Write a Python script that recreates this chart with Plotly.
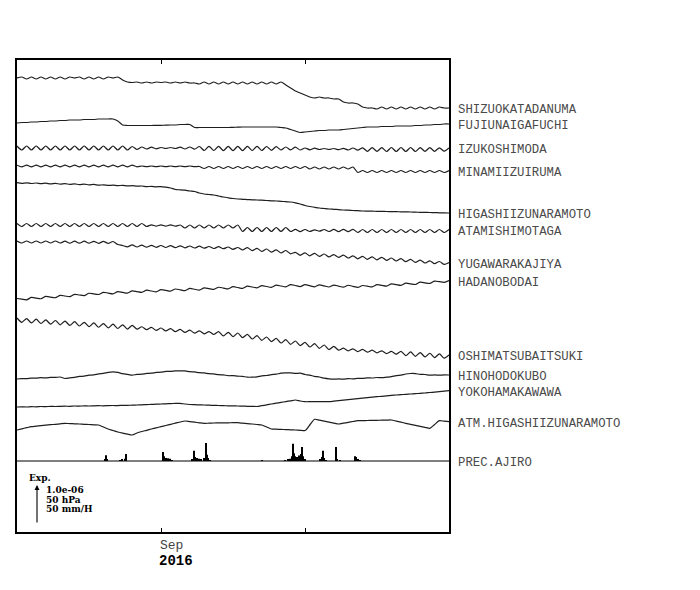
import pandas as pd
import plotly.graph_objects as go

# ---------------- data ----------------
start_date = "2016-08-02"
n_days = 91
dates = pd.date_range(start_date, periods=n_days, freq="D")

station_names = [
    "SHIZUOKATADANUMA", "FUJIUNAIGAFUCHI", "IZUKOSHIMODA", "MINAMIIZUIRUMA",
    "HIGASHIIZUNARAMOTO", "ATAMISHIMOTAGA", "YUGAWARAKAJIYA", "HADANOBODAI",
    "OSHIMATSUBAITSUKI", "HINOHODOKUBO", "YOKOHAMAKAWAWA", "ATM.HIGASHIIZUNARAMOTO",
]

# daily values, relative to the first day (scale bar = 39 units)
shizuoka = [0, 1, -1, 1, -1, 1, -1, 1, -1, 1, -1, 1, 0, 1, -1, 1, -1, 1, -1, 1, 0, 1,
            -2,
            -4, -4.5, -4, -5, -4, -5, -4, -4.5, -4, -5, -4, -5, -4, -5, -5,
            -6, -4, -6, -4, -6, -4, -6, -4, -6, -4, -6, -4, -6, -4, -6, -4, -6, -4,
            -7, -10, -13, -15, -17,
            -19, -20, -19, -20, -20, -21, -21,
            -24, -25, -25, -26,
            -29, -30,
            -30, -31, -29, -31, -29, -31, -29, -31, -29, -31, -29, -31, -29, -31, -29, -30, -30]

fujiunai = [0, 0.5, 0.5, 1, 1, 1.5, 1.5, 2, 2, 2.5, 2.5, 3, 3, 3, 3.5, 3.5, 3.5, 4, 4, 4, 4, 2,
            -2,
            -2.5, -2.5, -2.5, -2.5, -2.5, -2.5, -2.3, -2.3, -2.2, -2, -2, -1.5, -1.5,
            -1.5, -4.5,
            -4.5, -4.5, -4.5, -4.5, -4.5, -4.5, -4.5, -4.3, -4.2, -4, -4, -4, -4, -4, -4, -4, -4, -4.5, -5,
            -6.5, -8, -9.5, -9,
            -8.5, -8, -7.5, -7.5, -7, -7, -7, -6.5, -6, -5.5, -5, -4.5, -4, -4, -4, -3.5, -3.5, -3.5,
            -3, -3, -3, -3, -2.5, -2.5, -2, -2, -1.5, -1.5, -1, -1]

izukoshimoda = [2, -2, 2, -2, 2, -2, 2, -2, 2, -2, 2, -2, 2, -2, 2, -2, 2, -2, 2, -2, 2, -2, 2, -2, 1.5, -1.5,
                1, -1, 0.8, -0.8, 0.5, -0.5, 0.5, -0.5, 0.8, -1, 1, -1.2, 1.5,
                -2.5, 1.7, -2.5, 1.7, -2.7, 1.7, -2.7, 1.7, -2.7, 1.7, -2.5, 1.7, -2.5, 1.5, -2.3, 1.3, -2, 1, -1.8, 0.8,
                -2, 0, -1.8, -0.2, -1.5, -0.5, -1.5, -0.5, -1.7, -0.3, -2, 0, -2.2, 0.2,
                -3.3, 0.3, -3.3, 0.3, -3.5, 0.5, -3.5, 0.5, -3.5, 0.5, -3.5, 0.3, -3.3, 0.3, -3.3, 0.2, -3.2, 0]

minamiizu = [0.8, -0.8, 0.8, -0.8, 0.8, -0.8, 0.8, -0.8, 0.8, -0.8, 0.8, -0.8, 0.8, -0.8, 0.8, -0.8, 0.8, -0.8,
             0.8, -0.8, 0.8, -0.8, 0.8, -0.8, 0.8, -0.8,
             0, -0.6, 0, -0.6, 0, -0.6, 0, -0.6, 0, -0.6, 0, -0.6,
             -0.5, -2.5, -0.5, -2.5, -0.5, -2.5, -0.5, -2.5, -0.5, -2.5, -0.5, -2.5, -0.5, -2.5, -0.5, -2.5,
             -0.5, -2.5, -0.5, -2.5, -0.5, -2.5, -0.5,
             -3, -1, -3, -1, -3, -1, -3, -1, -3, -1,
             -6.5, -4.5, -6.5, -4.5, -6.5, -4.5, -6.5, -4.5, -6.5, -4.5, -6.5, -4.5, -6.5, -4.5, -6.5, -4.5,
             -6.5, -4.5, -6.5, -4.5]

higashiizu = [0.3, -0.3, 0.2, -0.5, 0, -0.7, -0.2, -0.9, -0.4, -1.1, -0.6,
              -1.4, -0.9, -1.6, -1.1, -1.9, -1.4, -2.2, -1.8, -2.4, -2.2, -2.6, -2.4, -2.9, -2.7, -3.2,
              -3.0, -3.6, -3.4, -3.8, -3.6, -4.2, -5, -6.5, -6.8, -7.2, -8, -8.5, -10, -11, -11.5,
              -12, -13, -14, -14.8, -15.5, -16, -16.3, -16.6, -16.8, -17, -17.2, -17.5, -17.8, -18,
              -18.3, -18.7, -19, -19.8, -21, -22.5, -23.5, -24.3, -25, -25.5, -26, -26.3, -26.6, -27,
              -27.2, -27.5, -27.7, -28, -28.1, -28.2, -28.3, -28.4, -28.5, -28.6, -28.7, -28.8, -28.9,
              -29, -29.2, -29.3, -29.4, -29.5, -29.6, -29.8, -29.9, -30]

atami = [1.5, -1.5, 1.5, -1.5, 1.5, -1.5, 1.5, -1.5, 1.5, -1.5, 1.5, -1.5, 1.5, -1.5, 1.5, -1.5, 1.5, -1.5,
         1.5, -1.5, 1.5, -1.5, 1.5, -1.5, 1.5, -1.5, 1.5, -1.5,
         0.2, -1.2, 0.2, -1.2, 0.2, -1.2,
         0, -3, 0, -3, 0, -3, 0, -3, 0, -3, 0, -3, 0,
         -6.5, -2.5, -6.5, -2.5, -6.5, -2.5, -6.5, -2.5, -6.5, -2.5, -6.5,
         -4.3, -6.7, -4.5, -6.5, -4.8, -6.2, -4.5, -6.5, -4.3, -6.7, -4.3, -6.7, -4.3,
         -7.5, -4.5, -7.5, -4.5, -7.5, -4.5, -7.5, -4.5, -7.5, -4.5, -7.5, -4.5, -7.5, -4.5, -7.5, -4.5,
         -7.5, -4.5, -7.5, -4.5]

yugawara = [1, -1, 1, -1, 1, -1, 1, -1, 1, -1, 0.8, -1.2, 0.8, -1.2, 0.8, -1.2, 0.7, -1.3, 0.6, -1.4, 0.5,
            -2.5, -3.5,
            -4.8, -2.9, -5, -3.1, -5.2, -3.3, -5.3, -3.5, -5.5, -3.6, -5.6, -3.8, -5.8, -4, -6, -4.2,
            -6.2, -4.5, -6.5, -4.7, -6.7, -5, -7.3, -5.5,
            -8, -5.6, -8.7, -6.3, -9.5, -7, -10.2, -7.8, -11, -8.5, -11.8, -10.3,
            -13.3, -10.9, -13.8, -11.4, -14.4, -12, -14.9, -12.6, -15.4, -13.1, -16, -13.8, -16.8,
            -14.4, -17.3, -14.9, -17.8, -15.4, -18.3, -16, -19, -16.7, -19.6, -17.4, -20.3, -18.1,
            -21, -18.8, -21.7, -19.5, -22.4, -20.5]

hadano = [0.5, -0.15, -0.8, 1.55, 0.9, 0.25, 2.6, 1.95, 1.3, 3.65, 3, 2.35, 4.7, 4, 3.4, 5.75, 5.1, 4.5,
          6.7, 5.95, 5.2, 7.4, 6.6, 5.85, 8.1, 7.3, 6.55, 8.8, 8, 7.2, 9.4, 8.6, 7.8, 10, 9.2, 8.4,
          10.55, 9.75, 8.95, 11.15, 10.35, 9.55, 11.75, 10.95, 10.1, 12.3, 11.5, 10.65, 12.85, 12, 11.15,
          13.35, 12.5, 11.65, 13.85, 13, 12.15, 14.35, 13.5, 12.4, 14.35, 13.3, 12.2, 14.15, 13.1, 12,
          13.95, 12.9, 11.8, 13.75, 12.7, 11.6, 13.5, 12.8, 12.05, 14.3, 13.6, 12.85, 15.1, 14.4, 13.65,
          15.9, 15.2, 14.5, 16.85, 16.2, 15.55, 17.9, 17.3, 16.65, 18.5]

oshima = [2, -2.3, 1.4, -2.9, 0.8, -3.5, 0.15, -4.15, -0.5, -4.8, -1.1, -5.4, -1.7, -6, -2.3, -6.65, -2.95,
          -7.25, -3.55, -7.9, -4.2, -8.5, -4.8, -9.1, -5.45,
          -9.05, -6.75, -9.7, -7.4, -10.3, -8, -10.95, -8.7, -11.7, -9.45, -12.4, -10.15, -13.1, -10.85,
          -13.8, -11.55, -14.5,
          -11.6, -15.95, -12.3, -16.65, -13, -17.65, -14.35, -19, -15.65, -20.35, -17, -21.65, -18.35,
          -23, -19.65, -24.35, -21, -25.65, -22.35, -27, -23.65, -28.35, -25, -29.65, -26.35,
          -30.2, -28.15, -30.85, -28.8, -31.55, -29.45, -32.2, -30.15, -32.85, -30.8, -33.55, -31.45, -34.2,
          -31.3, -35.65, -31.95, -36.3, -32.6, -36.9, -33.25, -37.55, -33.9, -38.2, -35]

hinohodokubo = [0, 0.4, 0.3, 0.9, 0.8, 1.3, 1.1, 1.6, 1.6, 2, 0.5, 1.2, 1.6, 2.6, 2.8, 3.8, 4.1, 5.1, 5.6,
                6.6, 7.1, 6.6, 5.3, 4.6, 3.8, 4.6, 4.8, 5.6, 5.8, 6.6, 6.8, 7.6, 7.6, 8.1, 8.1, 8.1, 7.3,
                7.1, 6.3, 6.1, 5.3, 5.1, 4.3, 4.1, 3.3, 3.3, 2.8, 2.6, 1.8, 1.8, 2.1, 3.1, 3.5, 4.4, 4.8,
                5.8, 6.1, 6.1, 5.6, 5.8, 4.5, 3.9, 2.6, 2, 0.8, 0.1, -0.2, 0.1, -0.2, 0.3, 0.2, 0.7, 0.6,
                1.1, 1, 1.5, 1.3, 1.8, 2.3, 3.4, 3.9, 5, 5.5, 5.4, 4.6, 4.5, 3.8, 4.1, 3.8, 4.1, 4]

yokohama = [0, 0.2, 0, 0.3, 0.2, 0.5, 0.4, 0.6, 0.5, 0.7, 0.8, 0.7, 1, 0.9, 1.1, 1, 1.2, 1.3, 1.2, 1.4,
            1.5, 1.4, 1.7, 1.6, 1.9, 2, 2.2, 2.4, 2.6, 2.8, 3, 3.2, 3.4, 3.6, 3.7, 3, 2.5, 2.3, 2.1, 2,
            1.8, 1.6, 1.5, 1.3, 1.2, 1.1, 1, 0.9, 0.7, 0.6, 0.5, 1.3, 2.1, 3, 3.8, 4.6, 5.4, 6.2, 7, 6,
            5.3, 5.3, 5.3, 5.3, 5.3, 5.3, 5.8, 6.3, 6.8, 7.3, 7.8, 8.3, 8.8, 9.3, 9.8, 10.3, 10.7, 11.2,
            11.6, 12, 12.3, 12.7, 13, 13.3, 13.7, 14, 14.5, 14.9, 15.4, 15.8, 16.3]

atm_higashiizu = [0, 1.2, 2.3, 3.3, 3.8, 4.3, 4.8, 5.3, 5.7, 6.2, 6.7, 6.4, 6.2, 6, 5.7, 5.5, 5.2, 5, 3, 1,
                  -0.5, -2, -3.2, -4.2, -5, -3, -1.5, -0.3, 1, 2.2, 3.3, 4.5, 5.7, 6.8, 8, 9, 8.4, 7.8,
                  7.2, 6.7, 6.8, 7, 7.1, 7.2, 7.2, 7.3, 7.3, 6.8, 6.4, 6, 5.5, 5, 3, 1, 0.8, 0.6, 0.4,
                  0.2, 0, -0.3, -0.5, 5, 10.7, 9.8, 8.8, 7.9, 6.9, 6, 6.8, 7.6, 8.5, 9.3, 9.4, 9.5, 9.6,
                  9.7, 9.8, 9.9, 10, 8.9, 7.8, 6.7, 5.7, 4.7, 3.7, 2.7, 1.7, 5.5, 9.3, 8.8, 8.3]

series = [shizuoka, fujiunai, izukoshimoda, minamiizu, higashiizu, atami, yugawara,
          hadano, oshima, hinohodokubo, yokohama, atm_higashiizu]

# precipitation at Ajiro: hours since start, mm/h
prec_name = "PREC.AJIRO"
prec_hours = [440, 445, 450, 515, 525, 540, 545, 730, 735, 745, 755, 765, 775, 875, 885, 890, 900,
              910, 920, 935, 945, 950, 955, 965, 1225, 1340, 1355, 1365, 1375, 1380, 1385, 1390,
              1400, 1410, 1420, 1425, 1430, 1440, 1515, 1525, 1530, 1535, 1545, 1595, 1600, 1615,
              1690, 1695, 1705, 1715]
prec_mmh = [1.5, 7.5, 2, 1, 2.5, 3, 9, 11.5, 6, 4, 3.5, 3, 1, 2, 13, 5, 4, 3, 2, 4, 23, 8, 4, 1, 0.5,
            1, 2, 3, 6, 22, 10, 6, 5, 7, 9, 18, 6, 2, 2, 5, 13, 4, 1, 18, 2, 0.5, 6, 5, 2, 0.5]

tick_dates = ["2016-09-01", "2016-10-01"]
scale_texts = ["1.0e-06", "50 hPa", "50 mm/H"]

# ---------------- layout helpers ----------------
offsets = [454, 409, 384, 366, 349, 307, 290, 233, 212, 153, 125, 102]
prec_offset = 71
scale_len = 39.0          # units per scale bar (1e-6 / 50 hPa / 50 mm/H)
line_color = "#1e1e1e"
label_font = dict(family="Liberation Mono, Courier New, monospace", size=12.3, color="#4a4a4a")

fig = go.Figure()
annotations = []
for name, vals, off in zip(station_names, series, offsets):
    yv = [off + v for v in vals]
    fig.add_trace(go.Scatter(x=dates[:len(yv)], y=yv, mode="lines",
                             line=dict(color=line_color, width=1.2, shape="spline", smoothing=0.7),
                             hoverinfo="skip", showlegend=False, name=name))
    annotations.append(dict(x=1, xref="paper", y=yv[-1], yref="y", text=name,
                            showarrow=False, xanchor="left", yanchor="middle",
                            xshift=7, yshift=-2, font=label_font))

prec_x = [pd.Timestamp(start_date) + pd.Timedelta(hours=h) for h in prec_hours]
fig.add_trace(go.Bar(x=prec_x, y=[v / 50 * scale_len for v in prec_mmh], base=prec_offset,
                     width=5 * 3600 * 1000, marker=dict(color="black", line=dict(width=0)),
                     showlegend=False, hoverinfo="skip"))
annotations.append(dict(x=1, xref="paper", y=prec_offset, yref="y", text=prec_name,
                        showarrow=False, xanchor="left", yanchor="middle",
                        xshift=7, yshift=-2, font=label_font))

# scale legend
serif_b = dict(family="DejaVu Serif, serif", size=9, color="black")
annotations.append(dict(x=0.022, xref="paper", y=54, yref="y", text="<b>Exp.</b>",
                        showarrow=False, xanchor="left", yanchor="middle", font=serif_b))
for k, t in enumerate(scale_texts):
    annotations.append(dict(x=0.063, xref="paper", y=42 - k * 9.65, yref="y", text="<b>%s</b>" % t,
                            showarrow=False, xanchor="left", yanchor="middle", font=serif_b))
annotations.append(dict(x=0.0463, xref="paper", y=8 + scale_len, yref="y", ax=0, ay=scale_len,
                        text="", showarrow=True, arrowhead=2, arrowsize=0.9, arrowwidth=1.1,
                        arrowcolor="black"))

# date labels
mono = "Liberation Mono, Courier New, monospace"
annotations.append(dict(x=tick_dates[0], xref="x", y=-0.029, yref="paper", text="Sep",
                        showarrow=False, xanchor="left", yanchor="middle", xshift=-3,
                        font=dict(family=mono, size=13, color="#444")))
annotations.append(dict(x=tick_dates[0], xref="x", y=-0.061, yref="paper", text="<b>2016</b>",
                        showarrow=False, xanchor="left", yanchor="middle", xshift=-4,
                        font=dict(family=mono, size=14, color="black")))

fig.update_layout(
    width=692, height=582,
    margin=dict(l=9, r=251, t=52, b=58),
    paper_bgcolor="white", plot_bgcolor="white",
    annotations=annotations,
    shapes=[dict(type="line", xref="paper", x0=0, x1=1, yref="y", y0=prec_offset, y1=prec_offset,
                 line=dict(color="black", width=1.2))],
    xaxis=dict(type="date", range=[dates[0], dates[-1]], tickvals=tick_dates, ticks="inside",
               ticklen=4, tickcolor="black", tickwidth=1, showticklabels=False, showgrid=False,
               zeroline=False, showline=True, linecolor="black", linewidth=2, mirror="allticks"),
    yaxis=dict(range=[0, 472], showticklabels=False, ticks="", showgrid=False, zeroline=False,
               showline=True, linecolor="black", linewidth=2, mirror=True),
)

fig.write_html("out.html")
